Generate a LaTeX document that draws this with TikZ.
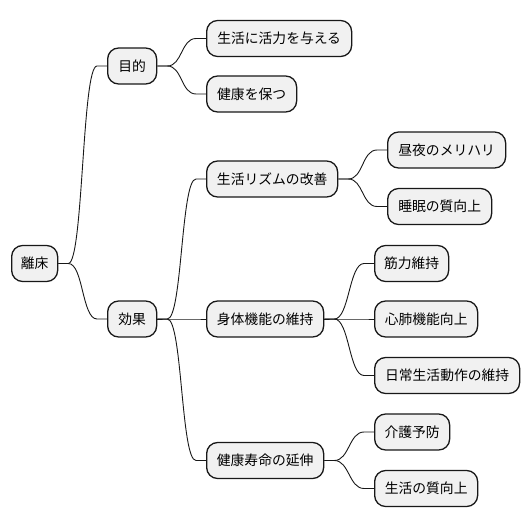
\documentclass[tikz,border=0pt]{standalone}
\usepackage{fontspec}
\setmainfont{Noto Sans CJK JP}
\usetikzlibrary{calc}
\definecolor{boxfill}{HTML}{F1F1F1}
\definecolor{boxline}{HTML}{181818}
\tikzset{
  mm/.style={draw=boxline, fill=boxfill, line width=1.3pt, rounded corners=11pt,
    inner sep=0pt, minimum height=36pt, anchor=west, align=center,
    font=\fontsize{13.8pt}{16pt}\selectfont},
  conn/.style={draw=boxline, line width=0.9pt}
}
\newcommand{\mmconn}[2]{%
  \path (#1.east) ++(10,0) coordinate (#1-#2-p);
  \path (#2.west) ++(-10,0) coordinate (#2-#1-q);
  \draw[conn] (#1.east) -- (#1-#2-p) .. controls ($(#1-#2-p)+(15,0)$) and ($(#2-#1-q)+(-15,0)$) .. (#2-#1-q) -- (#2.west);
}
\begin{document}
\begin{tikzpicture}[x=1pt,y=-1pt]
\useasboundingbox (0,0) rectangle (530,527);
% root
\node[mm, minimum width=46pt] (root) at (11,263.5) {離床};
% level 1
\node[mm, minimum width=49pt] (mokuteki) at (107,66) {目的};
\node[mm, minimum width=49pt] (kouka) at (107,319) {効果};
% level 2
\node[mm, minimum width=145pt] (katsuryoku) at (206,38.5) {生活に活力を与える};
\node[mm, minimum width=90pt] (kenkou) at (206,94) {健康を保つ};
\node[mm, minimum width=131pt] (rhythm) at (206,179) {生活リズムの改善};
\node[mm, minimum width=117pt] (shintai) at (206,319) {身体機能の維持};
\node[mm, minimum width=117pt] (jumyou) at (206,460.5) {健康寿命の延伸};
% level 3
\node[mm, minimum width=118pt] (meriha) at (387,150) {昼夜のメリハリ};
\node[mm, minimum width=104pt] (suimin) at (387,206.5) {睡眠の質向上};
\node[mm, minimum width=74pt] (kinryoku) at (374,263.5) {筋力維持};
\node[mm, minimum width=103pt] (shinpai) at (374,319) {心肺機能向上};
\node[mm, minimum width=145pt] (adl) at (374,375.5) {日常生活動作の維持};
\node[mm, minimum width=75pt] (kaigo) at (374,432) {介護予防};
\node[mm, minimum width=103pt] (qol) at (374,488.5) {生活の質向上};
% connectors
\mmconn{root}{mokuteki}
\mmconn{root}{kouka}
\mmconn{mokuteki}{katsuryoku}
\mmconn{mokuteki}{kenkou}
\mmconn{kouka}{rhythm}
\mmconn{kouka}{shintai}
\mmconn{kouka}{jumyou}
\mmconn{rhythm}{meriha}
\mmconn{rhythm}{suimin}
\mmconn{shintai}{kinryoku}
\mmconn{shintai}{shinpai}
\mmconn{shintai}{adl}
\mmconn{jumyou}{kaigo}
\mmconn{jumyou}{qol}
\end{tikzpicture}
\end{document}
